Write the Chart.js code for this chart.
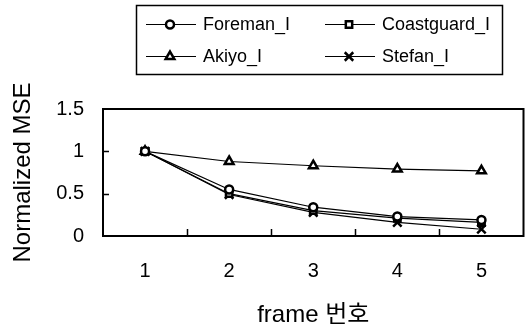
<!DOCTYPE html>
<html>
<head>
<meta charset="utf-8">
<script src="https://cdn.jsdelivr.net/npm/chart.js@4/dist/chart.umd.min.js"></script>
<style>
  html, body { margin: 0; padding: 0; background: #fff; }
  #wrap { width: 532px; height: 333px; }
</style>
</head>
<body>
<div id="wrap"><canvas id="mseChart"></canvas></div>
<script>
// data
var frames = ['1', '2', '3', '4', '5'];
var seriesNames = ['Foreman_I', 'Coastguard_I', 'Akiyo_I', 'Stefan_I'];
var foreman = [1, 0.55, 0.34, 0.23, 0.19];
var coastguard = [1, 0.50, 0.30, 0.21, 0.16];
var akiyo = [1, 0.88, 0.83, 0.79, 0.77];
var stefan = [1, 0.49, 0.28, 0.16, 0.08];
var yTicks = [0, 0.5, 1, 1.5];

var fontFamily = "'Liberation Sans', Arial, 'Noto Sans CJK KR', sans-serif";

function makeSet(label, values, style, radius) {
    return {
        label: label,
        data: values,
        borderColor: '#000',
        borderWidth: 1.2,
        backgroundColor: '#fff',
        pointStyle: style,
        pointRadius: radius,
        pointBorderWidth: 2.5,
        pointBorderColor: '#000',
        pointBackgroundColor: '#fff',
        tension: 0
    };
}

// box round the plot + inward tick marks
var frameBox = {
    id: 'frameBox',
    afterDraw: function(chart) {
        var ctx = chart.ctx;
        var a = chart.chartArea;
        var xs = chart.scales.x;
        var ys = chart.scales.y;
        ctx.save();
        ctx.strokeStyle = '#000';
        ctx.lineWidth = 2;
        ctx.strokeRect(a.left, a.top, a.right - a.left, a.bottom - a.top);
        ctx.lineWidth = 1.5;
        ctx.beginPath();
        for (var i = 1; i < yTicks.length - 1; i++) {
            var py = Math.round(ys.getPixelForValue(yTicks[i])) + 0.5;
            ctx.moveTo(a.left, py);
            ctx.lineTo(a.left + 6, py);
        }
        for (var j = 0; j < frames.length - 1; j++) {
            var px = Math.round((xs.getPixelForValue(j) + xs.getPixelForValue(j + 1)) / 2) + 0.5;
            ctx.moveTo(px, a.bottom);
            ctx.lineTo(px, a.bottom - 7);
        }
        ctx.stroke();
        ctx.restore();
    }
};

// legend in a box, two columns, line with marker in the middle
var boxLegend = {
    id: 'boxLegend',
    afterDraw: function(chart) {
        var ctx = chart.ctx;
        var left = 136, top = 5, right = 502, bottom = 74;
        var cols = [146, 325];
        var rows = [24, 56];
        ctx.save();
        ctx.strokeStyle = '#000';
        ctx.lineWidth = 1.5;
        ctx.strokeRect(left + 0.5, top + 0.5, right - left, bottom - top);
        ctx.font = '18px ' + fontFamily;
        ctx.fillStyle = '#000';
        ctx.textBaseline = 'middle';
        chart.data.datasets.forEach(function(ds, i) {
            var x = cols[i % 2];
            var y = rows[Math.floor(i / 2)] + 0.5;
            ctx.lineWidth = 1.2;
            ctx.beginPath();
            ctx.moveTo(x, y);
            ctx.lineTo(x + 50, y);
            ctx.stroke();
            ctx.lineWidth = 2.5;
            ctx.fillStyle = '#fff';
            Chart.helpers.drawPoint(ctx, {
                pointStyle: ds.pointStyle,
                radius: ds.pointRadius,
                borderWidth: 2.5,
                rotation: 0
            }, x + 24, y);
            ctx.fillStyle = '#000';
            ctx.fillText(ds.label, x + 57, y + 1);
        });
        ctx.restore();
    }
};

var ctx = document.getElementById('mseChart').getContext('2d');
var chart = new Chart(ctx, {
    type: 'line',
    data: {
        labels: frames,
        datasets: [
            makeSet(seriesNames[0], foreman, 'circle', 4),
            makeSet(seriesNames[1], coastguard, 'rect', 4.5),
            makeSet(seriesNames[2], akiyo, 'triangle', 5),
            makeSet(seriesNames[3], stefan, 'crossRot', 6)
        ]
    },
    options: {
        responsive: true,
        maintainAspectRatio: false,
        animation: false,
        layout: { padding: { top: 109, right: 3, left: 0, bottom: 0 } },
        plugins: {
            legend: { display: false },
            tooltip: { enabled: false }
        },
        scales: {
            x: {
                offset: true,
                grid: { display: false, drawTicks: false },
                border: { display: false },
                ticks: {
                    color: '#000',
                    padding: 23,
                    font: { family: fontFamily, size: 20 }
                },
                title: {
                    display: true,
                    text: 'frame 번호',
                    color: '#000',
                    padding: { top: 0, bottom: 3 },
                    font: { family: fontFamily, size: 24 }
                },
                afterFit: function(scale) { scale.height = 97; }
            },
            y: {
                min: 0,
                max: 1.5,
                afterBuildTicks: function(scale) {
                    scale.ticks = yTicks.map(function(v) { return { value: v }; });
                },
                grid: { display: false, drawTicks: false },
                border: { display: false },
                ticks: {
                    color: '#000',
                    padding: 19,
                    font: { family: fontFamily, size: 20 },
                    callback: function(v) { return String(v); }
                },
                title: {
                    display: true,
                    text: 'Normalized MSE',
                    color: '#000',
                    padding: { top: 9, bottom: 0 },
                    font: { family: fontFamily, size: 24 }
                },
                afterFit: function(scale) { scale.width = 103; }
            }
        }
    },
    plugins: [frameBox, boxLegend]
});
</script>
</body>
</html>
